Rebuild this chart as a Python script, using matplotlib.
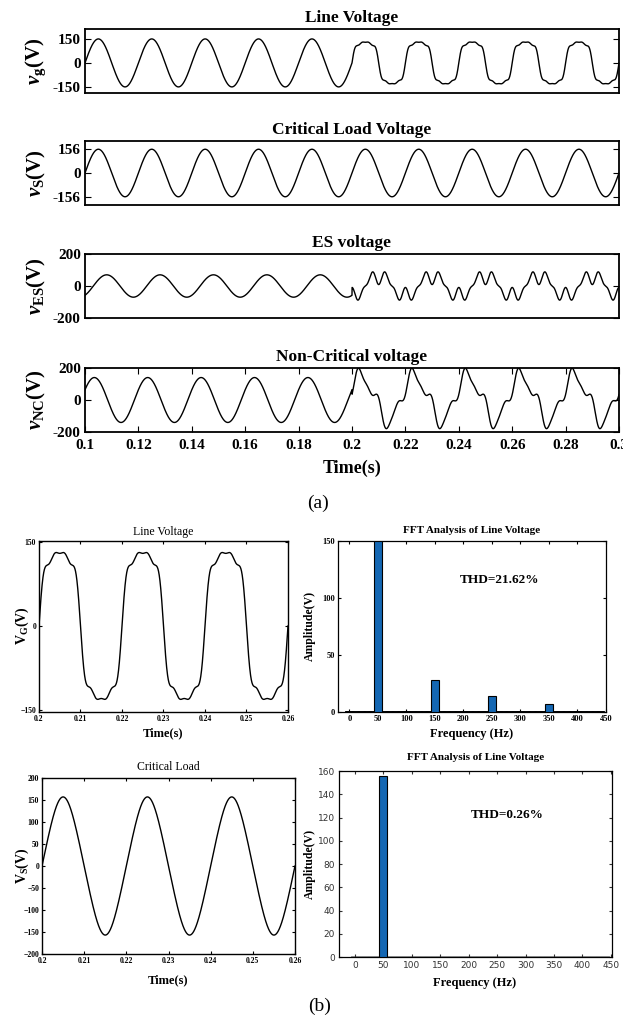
import numpy as np
import matplotlib
matplotlib.use('Agg')
from matplotlib import pyplot as plt

plt.rcParams['font.family'] = 'Liberation Serif'
plt.rcParams['font.weight'] = 'bold'
plt.rcParams['mathtext.fontset'] = 'custom'
plt.rcParams['mathtext.it'] = 'Liberation Serif:italic:bold'
plt.rcParams['mathtext.rm'] = 'Liberation Serif:bold'
plt.rcParams['mathtext.bf'] = 'Liberation Serif:bold'

F0 = 50.0          # grid frequency (Hz)
T_SAG = 0.2        # instant the line voltage becomes distorted (s)

# harmonic content: order, sine part, cosine part (V)
vg_pre_order, vg_pre_sin, vg_pre_cos = [1], [150], [0]
vg_post_order, vg_post_sin, vg_post_cos = [1, 3, 5, 7], [150, 28, 14, 7], [0, 0, 0, 0]
vs_order, vs_sin, vs_cos = [1], [156], [0]
es_pre_order, es_pre_sin, es_pre_cos = [1], [39], [-58]
es_post_order, es_post_sin, es_post_cos = [1, 3, 5], [0, 0, 0], [-65, 32, 24]
nc_pre_order, nc_pre_sin, nc_pre_cos = [1], [125], [64]
nc_post_dc = 12
nc_post_order, nc_post_sin, nc_post_cos = [1, 2, 3, 4, 5], [128, 0, 20, 6, 2], [64, 12, -40, 0, -14]
vs_b_order, vs_b_sin, vs_b_cos = [1, 3], [154, -3], [0, 0]

# FFT spectra
fft_bins = list(range(0, 450, 10))
fft_g_harm = {50: 150, 150: 28, 250: 14, 350: 7}
fft_s_harm = {50: 156, 150: 0.8, 250: 0.6, 350: 0.5}
fft_floor = 0.8
thd_g = 'THD=21.62%'
thd_s = 'THD=0.26%'

W, H = 623, 1022
fig = plt.figure(figsize=(W/100, H/100), dpi=100)


def px_axes(l, t, r, b):
  return fig.add_axes([l/W, 1-b/H, (r-l)/W, (b-t)/H])


def ftext(x, y, s, **kw):
  return fig.text(x/W, 1-y/H, s, ha='center', va='center', **kw)


def wave(t, orders, sins, coss, dc=0.0):
  th = 2*np.pi*F0*t
  v = np.full_like(t, dc)
  for n, a, b in zip(orders, sins, coss):
    v += a*np.sin(n*th)+b*np.cos(n*th)
  return v


t = np.linspace(0.1, 0.3, 6001)
pre = t < T_SAG
vg = np.where(pre, wave(t, vg_pre_order, vg_pre_sin, vg_pre_cos),
              wave(t, vg_post_order, vg_post_sin, vg_post_cos))
vs = wave(t, vs_order, vs_sin, vs_cos)
ves = np.where(pre, wave(t, es_pre_order, es_pre_sin, es_pre_cos),
               wave(t, es_post_order, es_post_sin, es_post_cos))
vnc = np.where(pre, wave(t, nc_pre_order, nc_pre_sin, nc_pre_cos),
               wave(t, nc_post_order, nc_post_sin, nc_post_cos, nc_post_dc))

# ---------------- (a) ----------------
panels = [
  ('Line Voltage', r'$v_{\mathrm{g}}$(V)', vg, (-188, 212), [150, 0, -150]),
  ('Critical Load Voltage', r'$v_{\mathrm{S}}$(V)', vs, (-210, 210), [156, 0, -156]),
  ('ES voltage', r'$v_{\mathrm{ES}}$(V)', ves, (-200, 200), [200, 0, -200]),
  ('Non-Critical voltage', r'$v_{\mathrm{NC}}$(V)', vnc, (-200, 200), [200, 0, -200]),
]
tops = [29, 141, 254, 368]
xt = [0.1, 0.12, 0.14, 0.16, 0.18, 0.2, 0.22, 0.24, 0.26, 0.28, 0.3]
for i, (title, ylab, y, ylim, yt) in enumerate(panels):
  ax = px_axes(85, tops[i], 619, tops[i]+64)
  ax.plot(t, y, 'k', lw=1.0)
  ax.set_xlim(0.1, 0.3)
  ax.set_ylim(*ylim)
  ax.set_yticks(yt)
  ax.set_yticklabels([str(v) for v in yt])
  ax.tick_params(axis='y', direction='in', right=True, labelsize=11, pad=3, length=4)
  for s in ax.spines.values():
    s.set_linewidth(1.3)
  ax.set_title(title, fontsize=12.5, fontweight='bold', pad=5)
  ftext(36, tops[i]+32, ylab, fontsize=15, rotation=90, fontweight='bold')
  if i < 3:
    ax.set_xticks([])
  else:
    ax.set_xticks(xt)
    ax.set_xticklabels(['%g' % v for v in xt])
    ax.tick_params(axis='x', direction='in', top=True, labelsize=11, pad=5, length=4)
ftext(352, 468, 'Time(s)', fontsize=13, fontweight='bold')
ftext(318, 503, '(a)', fontsize=14, fontweight='normal')

# ---------------- (b) waveforms ----------------
tb = np.linspace(0.2, 0.26, 3001)
vg_b = wave(tb, vg_post_order, vg_post_sin, vg_post_cos)
vs_b = wave(tb, vs_b_order, vs_b_sin, vs_b_cos)
xt_b = [0.2, 0.21, 0.22, 0.23, 0.24, 0.25, 0.26]

axl1 = px_axes(39, 541, 288, 712)
axl1.plot(tb, vg_b, 'k', lw=1.0)
axl1.set_xlim(0.2, 0.26)
axl1.set_ylim(-153, 151)
axl1.set_yticks([150, 0, -150])
axl1.set_title('Line Voltage', fontsize=8.5, fontweight='normal', pad=4)
ftext(22, 626, r'V$_{\mathrm{G}}$(V)', fontsize=10, rotation=90, fontweight='bold')
ftext(163, 733, 'Time(s)', fontsize=9, fontweight='bold')

axl2 = px_axes(42, 778, 295, 954)
axl2.plot(tb, vs_b, 'k', lw=1.0)
axl2.set_xlim(0.2, 0.26)
axl2.set_ylim(-200, 200)
axl2.set_yticks(list(range(-200, 201, 50)))
axl2.set_title('Critical Load', fontsize=8.5, fontweight='normal', pad=6)
ftext(22, 866, r'V$_{\mathrm{S}}$(V)', fontsize=10, rotation=90, fontweight='bold')
ftext(168, 980, 'Time(s)', fontsize=9, fontweight='bold')

for ax in (axl1, axl2):
  ax.set_xticks(xt_b)
  ax.set_xticklabels(['%g' % v for v in xt_b])
  ax.tick_params(direction='in', top=True, right=True, labelsize=5.5, pad=2, length=2.5)
  for s in ax.spines.values():
    s.set_linewidth(1.0)

# ---------------- (b) spectra ----------------
bar_col = '#1467b3'
xt_f = list(range(0, 451, 50))


def spectrum(ax, harm, floor_edge):
  h = [harm.get(f, fft_floor) for f in fft_bins]
  big = [f in harm and harm[f] > 5 for f in fft_bins]
  ax.bar([f for f, b in zip(fft_bins, big) if not b], [v for v, b in zip(h, big) if not b],
         width=14, color=bar_col, edgecolor=floor_edge, lw=0.7)
  ax.bar([f for f, b in zip(fft_bins, big) if b], [v for v, b in zip(h, big) if b],
         width=14, color=bar_col, edgecolor='k', lw=0.8, zorder=3)
  ax.set_xticks(xt_f)
  ax.tick_params(direction='in', top=True, right=True, length=2.5)


axr1 = px_axes(338, 541, 606, 712)
spectrum(axr1, fft_g_harm, 'k')
axr1.set_xlim(-20, 450)
axr1.set_ylim(0, 150)
axr1.set_yticks([0, 50, 100, 150])
axr1.tick_params(labelsize=6, pad=2)
axr1.set_title('FFT Analysis of Line Voltage', fontsize=8, fontweight='bold', pad=6)
axr1.text(194, 116, thd_g, fontsize=9.5, fontweight='bold', va='center')
ftext(472, 734, 'Frequency (Hz)', fontsize=9, fontweight='bold')
ftext(310, 626, 'Amplitude(V)', fontsize=8.5, rotation=90, fontweight='bold')

axr2 = px_axes(339, 771, 612, 957)
spectrum(axr2, fft_s_harm, '#999999')
axr2.set_xlim(-28, 452)
axr2.set_ylim(0, 160)
axr2.set_yticks(list(range(0, 161, 20)))
axr2.tick_params(labelsize=6.5, pad=3, colors='#333333')
for lbl in axr2.get_xticklabels()+axr2.get_yticklabels():
  lbl.set_fontfamily('DejaVu Sans')
  lbl.set_fontweight('normal')
axr2.set_title('FFT Analysis of Line Voltage', fontsize=8, fontweight='bold', pad=8)
axr2.text(204, 122, thd_s, fontsize=9.5, fontweight='bold', va='center')
ftext(475, 983, 'Frequency (Hz)', fontsize=9, fontweight='bold')
ftext(310, 864, 'Amplitude(V)', fontsize=8.5, rotation=90, fontweight='bold')
for ax in (axr1, axr2):
  for s in ax.spines.values():
    s.set_linewidth(0.9)

ftext(320, 1006, '(b)', fontsize=14, fontweight='normal')

fig.savefig('out.png', dpi=100)
